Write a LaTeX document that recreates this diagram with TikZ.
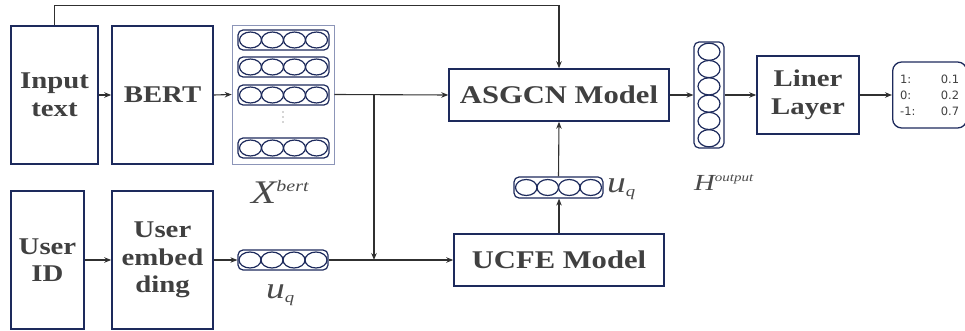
\documentclass[tikz,border=0pt]{standalone}
\usepackage{fontspec}
\usetikzlibrary{arrows.meta,positioning}
\newfontfamily\boxfont[FakeStretch=1.2]{Liberation Serif}
\newfontfamily\lblfont[FakeStretch=1.25]{Liberation Serif}
\newfontfamily\numfont{DejaVu Sans}
\definecolor{navy}{HTML}{1D2A5C}
\definecolor{txtgray}{HTML}{404040}
\definecolor{linegray}{HTML}{303030}
\definecolor{panelblue}{HTML}{8C95B8}
\definecolor{lblgray}{HTML}{4A4A4A}
\tikzset{
  blk/.style={draw=navy, line width=1.5pt, text=txtgray, align=center, inner sep=0pt,
    font=\boxfont\bfseries\fontsize{24}{27.5}\selectfont},
  model/.style={blk, font=\boxfont\bfseries\fontsize{25.5}{28}\selectfont},
  vecbox/.style={draw=navy, line width=1.2pt, rounded corners=5pt, inner sep=0pt},
  cell/.style={draw=navy, line width=1.2pt},
  link/.style={draw=linegray, line width=1.1pt, -{Stealth[length=7pt,width=5.5pt]}},
  lbl/.style={text=lblgray, inner sep=0pt, anchor=base west, font=\lblfont\itshape},
  resbox/.style={draw=navy, line width=1.3pt, rounded corners=9pt, inner sep=0pt,
    text=txtgray, align=left, font=\numfont\fontsize{11.5}{16}\selectfont}
}
\begin{document}
\begin{tikzpicture}[x=1pt,y=-1pt]
  \useasboundingbox (0,0) rectangle (965,331);
  % text branch
  \node[blk, minimum width=87pt, minimum height=138pt] (intext) at (54.5,95) {Input\\text};
  \node[blk, minimum width=101pt, minimum height=138pt] (bert) at (162.5,95) {BERT};
  \node[draw=panelblue, line width=0.6pt, minimum width=102pt, minimum height=139pt] (xpanel) at (283,94.5) {};
  \foreach \y/\n in {40/1, 67/2, 95/3, 148/4} {
    \node[vecbox, minimum width=91pt, minimum height=20pt] (row\n) at (283.5,\y) {};
    \foreach \k in {-33,-11,11,33}
      \draw[cell] ([xshift=\k pt]row\n.center) ellipse [x radius=11pt, y radius=8pt];
  }
  \foreach \y in {112,117,122}
    \fill[lblgray] (283,\y) circle [radius=0.6pt];
  \node[lbl, font=\lblfont\itshape\fontsize{33}{33}\selectfont] (xlab) at (251,203)
    {X\raisebox{12pt}{\fontsize{16}{16}\selectfont bert}};
  % user branch
  \node[blk, minimum width=73pt, minimum height=138pt] (userid) at (47.5,260) {User\\ID};
  \node[blk, minimum width=101pt, minimum height=138pt] (uemb) at (162.5,260) {User\\embed\\ding};
  \node[vecbox, minimum width=90pt, minimum height=20pt] (uqvec) at (283,260) {};
  \foreach \k in {-33,-11,11,33}
    \draw[cell] ([xshift=\k pt]uqvec.center) ellipse [x radius=11pt, y radius=8pt];
  \node[lbl, font=\lblfont\itshape\fontsize{30}{30}\selectfont] (uqlab) at (266,298)
    {u\raisebox{-4pt}{\fontsize{15}{15}\selectfont q}};
  % models
  \node[model, minimum width=220pt, minimum height=52pt] (asgcn) at (559,95) {ASGCN Model};
  \node[model, minimum width=210pt, minimum height=52pt] (ucfe) at (559,260) {UCFE Model};
  \node[vecbox, minimum width=89pt, minimum height=21pt] (uqtop) at (558.5,187.5) {};
  \foreach \k in {-32.25,-10.75,10.75,32.25}
    \draw[cell] ([xshift=\k pt]uqtop.center) ellipse [x radius=10.75pt, y radius=8pt];
  \node[lbl, font=\lblfont\itshape\fontsize{30}{30}\selectfont] (uqtoplab) at (607,192)
    {u\raisebox{-5pt}{\fontsize{15}{15}\selectfont q}};
  % output
  \node[vecbox, minimum width=30pt, minimum height=106pt] (hvec) at (709,95) {};
  \foreach \d in {43.25,25.95,8.65,-8.65,-25.95,-43.25}
    \draw[cell] ([yshift=\d pt]hvec.center) ellipse [x radius=11pt, y radius=8.6pt];
  \node[lbl, font=\lblfont\itshape\fontsize{23}{23}\selectfont] (hlab) at (694,190)
    {H\raisebox{9pt}{\fontsize{12}{12}\selectfont output}};
  \node[blk, minimum width=102pt, minimum height=78pt] (liner) at (808,95) {Liner\\Layer};
  \node[resbox, minimum width=74pt, minimum height=66pt, anchor=west] (res) at (892,95)
    {\hbox to 59pt{1:\hfill 0.1}\\\hbox to 59pt{0:\hfill 0.2}\\\hbox to 59pt{-1:\hfill 0.7}};
  % connectors
  \coordinate (split) at (374,95);
  \draw[link] (intext.east) -- (bert.west);
  \draw[link] (bert.east) -- (xpanel.west);
  \draw[link] (xpanel.east) -- (asgcn.west);
  \draw[link] (split) -- (split |- uqvec.east);
  \draw[link] (userid.east) -- (uemb.west);
  \draw[link] (uemb.east) -- (uqvec.west);
  \draw[link] (uqvec.east) -- (ucfe.west);
  \draw[link] (ucfe.north) -- (ucfe.north |- uqtop.south);
  \draw[link] (uqtop.north) -- (asgcn.south);
  \draw[link] (intext.north) -- ++(0,-20) -| (asgcn.north);
  \draw[link] (asgcn.east) -- (hvec.west);
  \draw[link] (hvec.east) -- (liner.west);
  \draw[link] (liner.east) -- (res.west);
\end{tikzpicture}
\end{document}
